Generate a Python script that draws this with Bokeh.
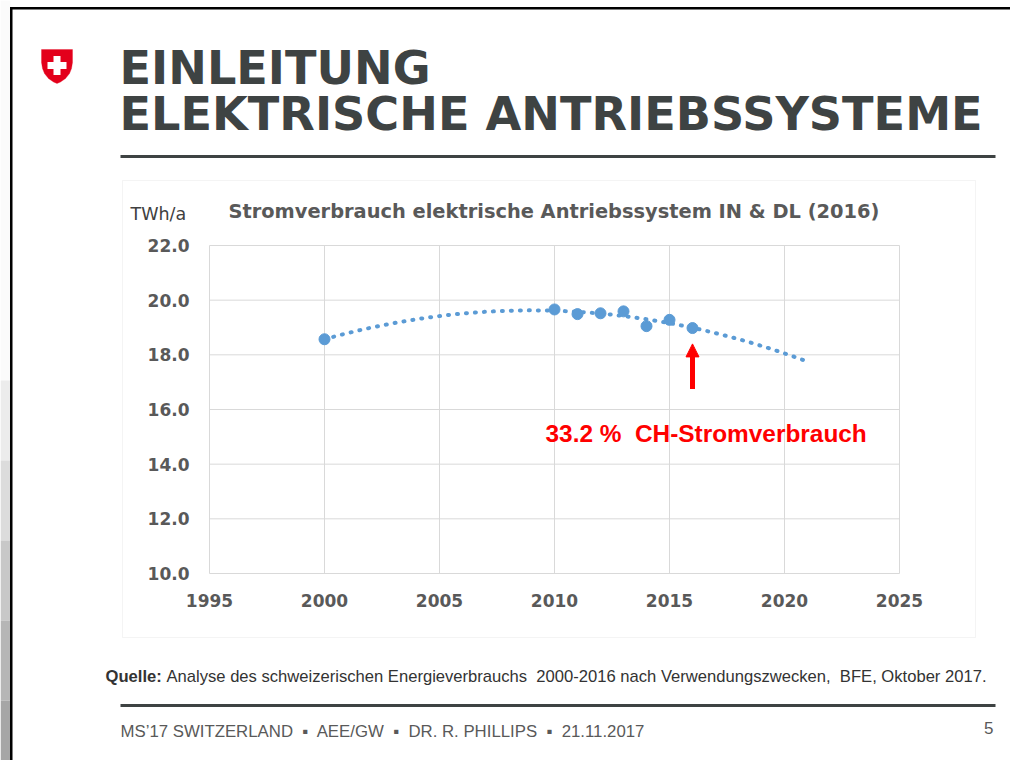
import numpy as np
from bokeh.plotting import figure
from bokeh.models import (Label, BoxAnnotation, PolyAnnotation, Arrow, NormalHead, LinearAxis,
                          FixedTicker, NumeralTickFormatter, ColumnDataSource)
from bokeh.embed import file_html
from bokeh.resources import INLINE

# ---------------- data ----------------
years = [2000, 2010, 2011, 2012, 2013, 2014, 2015, 2016]
consumption = [18.57, 19.66, 19.49, 19.52, 19.59, 19.05, 19.28, 18.98]   # TWh/a
trend_last_year = 2021
x_ticks = [1995, 2000, 2005, 2010, 2015, 2020, 2025]
y_ticks = [10, 12, 14, 16, 18, 20, 22]
highlight_year = 2016
chart_title = "Stromverbrauch elektrische Antriebssystem IN & DL (2016)"
unit_label = "TWh/a"
share_label = "33.2 %\u00a0 CH-Stromverbrauch"
slide_title_1 = "EINLEITUNG"
slide_title_2 = "ELEKTRISCHE ANTRIEBSSYSTEME"
source_bold = "Quelle:"
source_text = ("Analyse des schweizerischen Energieverbrauchs\u00a0 2000-2016 nach "
               "Verwendungszwecken,\u00a0 BFE, Oktober 2017.")
footer_text = "MS\u201917 SWITZERLAND\u00a0 \u25aa\u00a0 AEE/GW\u00a0 \u25aa\u00a0 DR. R. PHILLIPS\u00a0 \u25aa\u00a0 21.11.2017"
page_number = "5"

# ---------------- geometry ----------------
W, H = 1010, 760
FL, FR, FT, FB = 209, 899, 245, 573   # chart plot area in page pixels
X0, X1 = x_ticks[0], x_ticks[-1]
Y0, Y1 = y_ticks[0], y_ticks[-1]

def X(px):
    return X0 + (px - FL) / (FR - FL) * (X1 - X0)

def Y(py):
    return Y1 - (py - FT) / (FB - FT) * (Y1 - Y0)

BLUE = "#5B9BD5"
GRID = "#D9D9D9"
DARK = "#3E4343"
RED = "#FF0000"

p = figure(width=W, height=H, x_range=(X(0), X(W)), y_range=(Y(H), Y(0)), title=None,
           output_backend="svg", toolbar_location=None, x_axis_type=None, y_axis_type=None,
           min_border_left=0, min_border_right=0, min_border_top=0, min_border_bottom=0,
           background_fill_color="white", border_fill_color="white",
           outline_line_color=None)
p.xgrid.visible = False
p.ygrid.visible = False

# ---------------- axes (fixed at the chart's plot area) ----------------
xaxis = LinearAxis(fixed_location=Y0, ticker=FixedTicker(ticks=x_ticks),
                   formatter=NumeralTickFormatter(format="0"))
yaxis = LinearAxis(fixed_location=X0, ticker=FixedTicker(ticks=y_ticks),
                   formatter=NumeralTickFormatter(format="0.0"))
for ax in (xaxis, yaxis):
    ax.axis_line_color = None
    ax.major_tick_line_color = None
    ax.minor_tick_line_color = None
    ax.major_tick_out = 0
    ax.major_tick_in = 0
    ax.major_label_text_font = "DejaVu Sans"
    ax.major_label_text_font_style = "bold"
    ax.major_label_text_font_size = "17px"
    ax.major_label_text_color = "#595959"
xaxis.major_label_standoff = 20
yaxis.major_label_standoff = 20
p.add_layout(xaxis, "below")
p.add_layout(yaxis, "left")

# chart box (outer chart area)
p.add_layout(BoxAnnotation(left=X(122), right=X(975), top=Y(180), bottom=Y(637),
                           fill_color=None, line_color=GRID, line_width=1, level="underlay"))

# gridlines at the tick positions
p.segment(x0=x_ticks, y0=[Y0] * len(x_ticks), x1=x_ticks, y1=[Y1] * len(x_ticks),
          line_color=GRID, line_width=1)
p.segment(x0=[X0] * len(y_ticks), y0=y_ticks, x1=[X1] * len(y_ticks), y1=y_ticks,
          line_color=GRID, line_width=1)

# polynomial (order 2) trendline, as in the original chart
coef = np.polyfit(np.array(years) - 2000, consumption, 2)
tx = np.linspace(years[0], trend_last_year, 300)
ty = np.polyval(coef, tx - 2000)
p.line(tx, ty, line_color=BLUE, line_width=4, line_dash="1 8", line_cap="round")

src = ColumnDataSource(dict(x=years, y=consumption))
p.scatter("x", "y", source=src, size=11, fill_color=BLUE, line_color=BLUE)

# arrow & annotation
hv = consumption[years.index(highlight_year)]
p.add_layout(Arrow(end=NormalHead(size=13, fill_color=RED, line_color=RED, line_width=1),
                   x_start=highlight_year, y_start=hv - 2.23,
                   x_end=highlight_year, y_end=hv - 0.58,
                   line_color=RED, line_width=5))
p.add_layout(Label(x=X(545), y=Y(433), text=share_label, text_font="Liberation Sans",
                   text_font_style="bold", text_font_size="24.4px", text_color=RED,
                   text_baseline="middle", text_align="left"))

p.add_layout(Label(x=X(130), y=Y(213), text=unit_label, text_font="DejaVu Sans",
                   text_font_size="17.5px", text_color="#404040", text_baseline="middle"))
p.add_layout(Label(x=X(228), y=Y(211), text=chart_title, text_font="DejaVu Sans",
                   text_font_style="bold", text_font_size="19.4px", text_color="#595959",
                   text_baseline="middle"))

# ---------------- slide decoration ----------------
strip = [(380, "#fbfbfb"), (460, "#ececec"), (540, "#dcdcdc"),
         (620, "#c8c8c8"), (700, "#b6b6b6"), (760, "#a6a6a6")]
prev = 0
for yb, col in strip:
    p.add_layout(BoxAnnotation(left=X(0), right=X(10), top=Y(prev), bottom=Y(yb),
                               fill_color=col, fill_alpha=1, line_color=None))
    prev = yb
p.add_layout(BoxAnnotation(left=X(10), right=X(1010), top=Y(6.5), bottom=Y(9),
                           fill_color="black", fill_alpha=1, line_color=None))
p.add_layout(BoxAnnotation(left=X(9.5), right=X(12), top=Y(6.5), bottom=Y(770),
                           fill_color="black", fill_alpha=1, line_color=None))

# swiss shield
shield = [(41, 49), (72, 49), (72, 62), (71, 68), (69, 73), (65, 78), (60, 81.5), (56.5, 83),
          (53, 81.5), (48, 78), (44, 73), (42, 68), (41, 62)]
p.add_layout(PolyAnnotation(xs=[X(a) for a, b in shield], ys=[Y(b) for a, b in shield],
                            fill_color="#E3001B", fill_alpha=1, line_color="#E3001B"))
p.add_layout(BoxAnnotation(left=X(47), right=X(66), top=Y(61.5), bottom=Y(68.5),
                           fill_color="white", fill_alpha=1, line_color=None))
p.add_layout(BoxAnnotation(left=X(53), right=X(60), top=Y(55.5), bottom=Y(74.5),
                           fill_color="white", fill_alpha=1, line_color=None))

# slide title
for txt, mid in ((slide_title_1, 67), (slide_title_2, 113)):
    p.add_layout(Label(x=X(119), y=Y(mid), text=txt, text_font="DejaVu Sans",
                       text_font_style="bold", text_font_size="46.2px", text_color=DARK,
                       text_baseline="middle"))
p.add_layout(BoxAnnotation(left=X(120), right=X(995), top=Y(154.5), bottom=Y(157.5),
                           fill_color=DARK, fill_alpha=1, line_color=None))

# source line and footer
p.add_layout(Label(x=X(105), y=Y(676), text=source_bold, text_font="Liberation Sans",
                   text_font_style="bold", text_font_size="16.6px", text_color="#333333",
                   text_baseline="middle"))
p.add_layout(Label(x=X(166), y=Y(676), text=source_text, text_font="Liberation Sans",
                   text_font_size="16.6px", text_color="#333333", text_baseline="middle"))
p.add_layout(BoxAnnotation(left=X(120), right=X(995), top=Y(703.5), bottom=Y(706.5),
                           fill_color=DARK, fill_alpha=1, line_color=None))
p.add_layout(Label(x=X(120), y=Y(731), text=footer_text, text_font="Liberation Sans",
                   text_font_size="16.8px", text_color="#595959", text_baseline="middle"))
p.add_layout(Label(x=X(993), y=Y(727), text=page_number, text_font="Liberation Sans",
                   text_font_size="17px", text_color="#595959", text_baseline="middle",
                   text_align="right"))

open("out.html", "w").write(file_html(p, INLINE))
